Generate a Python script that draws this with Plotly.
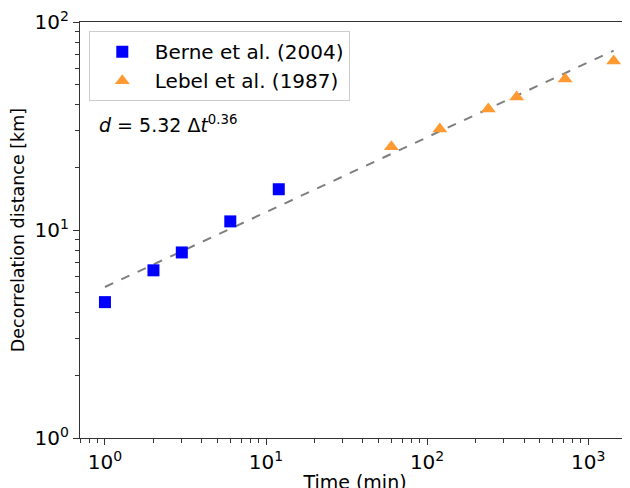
import plotly.graph_objects as go

berne_t = [1, 2, 3, 6, 12]
berne_d = [4.5, 6.4, 7.8, 11.0, 15.7]
lebel_t = [60, 120, 240, 360, 720, 1440]
lebel_d = [25.1, 30.6, 38.2, 43.6, 53.2, 64.9]
fit_t = [1, 1440]
fit_d = [5.32, 72.9]

x_major = [1, 10, 100, 1000]
x_major_text = ["10<sup>0</sup>", "10<sup>1</sup>", "10<sup>2</sup>", "10<sup>3</sup>"]
y_major = [1, 10, 100]
y_major_text = ["10<sup>0</sup>", "10<sup>1</sup>", "10<sup>2</sup>"]

x_minor = [m * 10 ** e for e in range(-1, 4) for m in range(2, 10)]
y_minor = [m * 10 ** e for e in range(0, 2) for m in range(2, 10)]

font = "DejaVu Sans"

fig = go.Figure()
fig.add_trace(go.Scatter(x=fit_t, y=fit_d, mode="lines",
                         line=dict(color="#7f7f7f", width=2, dash="dash"),
                         showlegend=False, hoverinfo="skip"))
fig.add_trace(go.Scatter(x=berne_t, y=berne_d, mode="markers", name="Berne et al. (2004)",
                         marker=dict(symbol="square", size=12, color="#0000ff")))
fig.add_trace(go.Scatter(x=lebel_t, y=lebel_d, mode="markers", name="Lebel et al. (1987)",
                         marker=dict(symbol="triangle-up", size=13, color="#ff9a33")))

fig.add_annotation(x=0.031, y=0.755, xref="paper", yref="paper", xanchor="left", yanchor="middle",
                   text="<i>d</i> = 5.32 Δ<i>t</i><sup>0.36</sup>", showarrow=False,
                   font=dict(family=font, size=19, color="black"))

axis_common = dict(type="log", showgrid=False, zeroline=False, showline=True, linecolor="#333333",
                   linewidth=1.3, ticks="outside", ticklen=6, tickwidth=1.2, tickcolor="#333333",
                   automargin=False, ticklabeloverflow="allow",
                   tickfont=dict(family=font, size=20, color="black"))

fig.update_xaxes(**axis_common, range=[-0.155, 3.26], tickvals=x_major, ticktext=x_major_text,
                 mirror=True,
                 minor=dict(tickvals=x_minor, ticks="outside", ticklen=3.5, tickwidth=1, tickcolor="#333333"),
                 title=dict(text="Time (min)", font=dict(family=font, size=19, color="black"), standoff=2))
fig.update_yaxes(**axis_common, range=[0, 2], tickvals=y_major, ticktext=y_major_text,
                 minor=dict(tickvals=y_minor, ticks="outside", ticklen=3.5, tickwidth=1, tickcolor="#333333"),
                 title=dict(text="Decorrelation distance [km]", font=dict(family=font, size=17.5, color="black"), standoff=8))

fig.update_layout(width=630, height=488, margin=dict(l=72, r=8, t=14, b=58),
                  plot_bgcolor="white", paper_bgcolor="white",
                  legend=dict(x=0.016, y=0.978, xanchor="left", yanchor="top",
                              bgcolor="rgba(255,255,255,0.8)", bordercolor="#cccccc", borderwidth=1,
                              font=dict(family=font, size=20, color="black"),
                              itemwidth=55, tracegroupgap=2))

fig.write_html("out.html")
